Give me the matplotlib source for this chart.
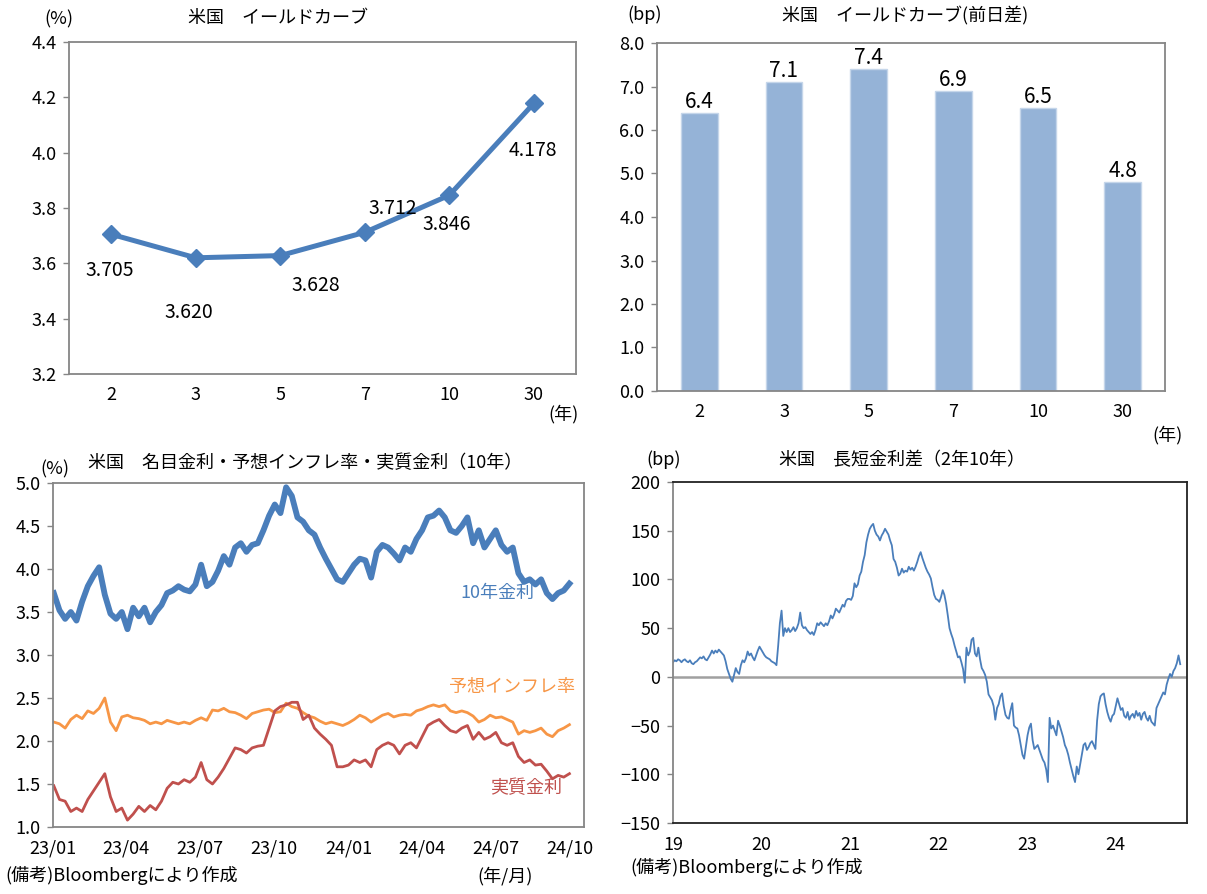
import matplotlib
matplotlib.use('Agg')
from matplotlib import pyplot as plt
import numpy as np
import pandas as pd

plt.rcParams['font.family'] = ['Liberation Sans Narrow', 'Noto Sans CJK JP', 'DejaVu Sans']
plt.rcParams['axes.unicode_minus'] = True

# --- yield curve (top left / top right) ---
tenors = ['2', '3', '5', '7', '10', '30']
yields = [3.705, 3.620, 3.628, 3.712, 3.846, 4.178]
yield_change_bp = [6.4, 7.1, 7.4, 6.9, 6.5, 4.8]

# --- 10y nominal / breakeven / real, weekly from 2023-01-02 ---
nominal_10y = [3.72, 3.52, 3.42, 3.50, 3.40, 3.62, 3.80, 3.92, 4.02, 3.70,
               3.48, 3.42, 3.50, 3.30, 3.55, 3.45, 3.55, 3.38, 3.50, 3.58,
               3.72, 3.75, 3.80, 3.76, 3.74, 3.82, 4.05, 3.80, 3.85, 3.98,
               4.15, 4.05, 4.25, 4.30, 4.20, 4.28, 4.30, 4.45, 4.62, 4.75,
               4.65, 4.95, 4.85, 4.60, 4.55, 4.45, 4.40, 4.25, 4.12, 4.00,
               3.88, 3.85, 3.95, 4.05, 4.12, 4.10, 3.90, 4.20, 4.28, 4.25,
               4.18, 4.10, 4.25, 4.20, 4.35, 4.45, 4.60, 4.62, 4.68, 4.60,
               4.45, 4.42, 4.50, 4.60, 4.30, 4.45, 4.25, 4.35, 4.45, 4.28,
               4.20, 4.25, 3.95, 3.85, 3.88, 3.82, 3.88, 3.72, 3.65, 3.72,
               3.75, 3.83]
breakeven_10y = [2.22, 2.20, 2.15, 2.25, 2.30, 2.26, 2.35, 2.32, 2.38, 2.50,
                 2.22, 2.12, 2.28, 2.30, 2.27, 2.26, 2.24, 2.20, 2.22, 2.20,
                 2.24, 2.22, 2.20, 2.22, 2.20, 2.24, 2.27, 2.24, 2.36, 2.35,
                 2.38, 2.34, 2.33, 2.30, 2.26, 2.32, 2.34, 2.36, 2.37, 2.33,
                 2.34, 2.44, 2.40, 2.38, 2.33, 2.29, 2.27, 2.23, 2.20, 2.22,
                 2.20, 2.18, 2.21, 2.25, 2.30, 2.27, 2.22, 2.26, 2.30, 2.32,
                 2.28, 2.30, 2.31, 2.30, 2.35, 2.37, 2.40, 2.42, 2.40, 2.42,
                 2.35, 2.33, 2.35, 2.33, 2.29, 2.22, 2.25, 2.30, 2.27, 2.28,
                 2.25, 2.22, 2.08, 2.12, 2.10, 2.12, 2.15, 2.08, 2.05, 2.12,
                 2.15, 2.19]
real_10y = [1.48, 1.32, 1.30, 1.18, 1.22, 1.18, 1.32, 1.42, 1.52, 1.62,
            1.35, 1.18, 1.22, 1.08, 1.15, 1.24, 1.18, 1.25, 1.20, 1.30,
            1.45, 1.52, 1.50, 1.55, 1.52, 1.58, 1.75, 1.55, 1.50, 1.58,
            1.68, 1.80, 1.92, 1.90, 1.86, 1.92, 1.94, 1.95, 2.15, 2.35,
            2.40, 2.42, 2.45, 2.45, 2.25, 2.30, 2.15, 2.08, 2.02, 1.95,
            1.70, 1.70, 1.72, 1.78, 1.75, 1.78, 1.70, 1.90, 1.95, 1.98,
            1.95, 1.85, 1.95, 1.98, 1.92, 2.05, 2.18, 2.22, 2.25, 2.18,
            2.12, 2.10, 2.15, 2.18, 2.02, 2.10, 2.02, 2.05, 2.10, 1.98,
            1.95, 1.98, 1.82, 1.75, 1.78, 1.72, 1.73, 1.65, 1.56, 1.60,
            1.58, 1.62]
rate_ticks = ['2023-01-01', '2023-04-01', '2023-07-01', '2023-10-01',
              '2024-01-01', '2024-04-01', '2024-07-01', '2024-10-01']
rate_tick_labels = ['23/01', '23/04', '23/07', '23/10', '24/01', '24/04', '24/07', '24/10']

# --- 2s10s spread (bp), weekly from 2019-01-01 ---
spread_2019 = [15, 17, 16, 18, 17, 15, 17, 18, 16, 15, 17, 14, 13,
               15, 16, 18, 20, 19, 21, 18, 17, 20, 23, 27, 24, 27,
               25, 28, 26, 24, 22, 16, 8, 3, -2, -5, 2, 9, 5, 3,
               12, 17, 15, 19, 26, 22, 24, 20, 17, 22, 27, 31]
spread_2020 = [28, 25, 22, 20, 19, 18, 16, 15, 14, 12, 32, 55, 68,
               42, 50, 46, 50, 46, 48, 51, 47, 50, 55, 66, 53, 50,
               51, 48, 46, 44, 46, 43, 48, 55, 53, 56, 54, 52, 55,
               53, 57, 63, 60, 64, 70, 68, 66, 70, 74, 72, 78, 80]
spread_2021 = [80, 79, 83, 96, 92, 95, 104, 108, 118, 125, 138, 146, 152,
               155, 157, 150, 146, 144, 140, 145, 148, 152, 149, 146, 140, 135,
               121, 118, 112, 104, 106, 111, 107, 109, 108, 113, 110, 112, 109,
               113, 118, 124, 128, 122, 117, 112, 108, 105, 101, 92, 84, 80]
spread_2022 = [79, 77, 82, 89, 84, 75, 63, 50, 44, 39, 32, 26, 20,
               21, 15, 8, -6, 30, 22, 26, 38, 40, 24, 21, 30, 18,
               9, 6, 2, -5, -18, -21, -24, -30, -44, -32, -28, -20, -17,
               -30, -39, -42, -43, -34, -27, -50, -52, -53, -60, -70, -80, -84]
spread_2023 = [-72, -60, -52, -48, -65, -74, -72, -70, -75, -80, -85, -88, -95,
               -108, -42, -53, -50, -55, -60, -45, -50, -56, -62, -70, -74, -80,
               -88, -95, -102, -108, -92, -100, -90, -80, -70, -68, -75, -72, -68,
               -66, -70, -74, -45, -28, -20, -18, -17, -28, -36, -42, -46, -40]
spread_2024 = [-38, -30, -22, -28, -34, -32, -40, -42, -36, -44, -40, -38, -42,
               -35, -40, -37, -44, -38, -36, -42, -45, -40, -46, -48, -50, -32,
               -28, -24, -20, -16, -18, -8, -2, 3, 0, 6, 9, 14, 22, 13]
spread_years = ['19', '20', '21', '22', '23', '24']

W, H = 1207, 894
blue = '#4A7EBB'
orange = '#F79646'
red = '#C0504D'
frame_gray = '#868686'


def px_axes(x0, y0, x1, y1):
    return fig.add_axes([x0 / W, 1 - y1 / H, (x1 - x0) / W, (y1 - y0) / H])


def ftext(x, y, s, **kw):
    kw.setdefault('ha', 'center')
    kw.setdefault('va', 'center')
    kw.setdefault('fontsize', 13)
    fig.text(x / W, 1 - y / H, s, **kw)


def style_frame(ax, color=frame_gray):
    for side in ax.spines.values():
        side.set_color(color)
        side.set_linewidth(1.3)
    ax.tick_params(axis='y', direction='out', length=4, width=1, color=frame_gray,
                   labelsize=13, pad=5)
    ax.tick_params(axis='x', length=0, labelsize=13, pad=9)


fig = plt.figure(figsize=(W / 100, H / 100), dpi=100)

# top left: yield curve
ax1 = px_axes(69, 42, 576, 374)
x = np.arange(len(tenors))
ax1.plot(x, yields, color=blue, lw=3.6, marker='D', ms=9, zorder=3)
ax1.set_xlim(-0.5, len(tenors) - 0.5)
ax1.set_ylim(3.2, 4.4)
ax1.set_yticks(np.arange(3.2, 4.41, 0.2))
ax1.set_yticklabels([f'{v:.1f}' for v in np.arange(3.2, 4.41, 0.2)])
ax1.set_xticks(x)
ax1.set_xticklabels(tenors)
style_frame(ax1)
label_offsets = [(-2, -36), (-7, -55), (36, -30), (28, 24), (-3, -29), (-1, -47)]
for xi, v, (dx, dy) in zip(x, yields, label_offsets):
    ax1.annotate(f'{v:.3f}', (xi, v), xytext=(dx * 0.72, dy * 0.72),
                 textcoords='offset points', ha='center', va='center', fontsize=14)
ftext(278, 18, '米国　イールドカーブ')
ftext(59, 19, '(%)')
ftext(563, 414, '(年)')

# top right: day-on-day change
ax2 = px_axes(657, 43, 1165, 391)
bars = ax2.bar(x, yield_change_bp, width=0.43, color='#95B3D7', edgecolor='#C5D6EA', lw=1)
ax2.set_xlim(-0.5, len(tenors) - 0.5)
ax2.set_ylim(0, 8)
ax2.set_yticks(np.arange(0, 8.01, 1))
ax2.set_yticklabels([f'{v:.1f}' for v in np.arange(0, 8.01, 1)])
ax2.set_xticks(x)
ax2.set_xticklabels(tenors)
style_frame(ax2)
ax2.bar_label(bars, labels=[f'{v:.1f}' for v in yield_change_bp], padding=0, fontsize=15)
ftext(905, 16, '米国　イールドカーブ(前日差)')
ftext(645, 15, '(bp)')
ftext(1168, 435, '(年)')

# bottom left: nominal / breakeven / real
ax3 = px_axes(53, 483, 584, 827)
d3 = pd.date_range('2023-01-02', periods=len(nominal_10y), freq='7D')
ax3.plot(d3, breakeven_10y, color=orange, lw=2.0)
ax3.plot(d3, real_10y, color=red, lw=2.0)
ax3.plot(d3, nominal_10y, color=blue, lw=4.2)
ax3.set_xlim(pd.Timestamp('2023-01-01'), pd.Timestamp('2024-10-18'))
ax3.set_ylim(1.0, 5.0)
ax3.set_yticks(np.arange(1.0, 5.01, 0.5))
ax3.set_yticklabels([f'{v:.1f}' for v in np.arange(1.0, 5.01, 0.5)])
ax3.set_xticks(pd.to_datetime(rate_ticks))
ax3.set_xticklabels(rate_tick_labels)
style_frame(ax3)
ftext(305, 463, '米国　名目金利・予想インフレ率・実質金利（10年）')
ftext(55, 469, '(%)')
ftext(497, 593, '10年金利', color=blue)
ftext(512, 687, '予想インフレ率', color=orange)
ftext(526, 788, '実質金利', color=red)
ftext(5, 875, '(備考)Bloombergにより作成', ha='left')
ftext(505, 876, '(年/月)')

# bottom right: 2s10s spread
ax4 = px_axes(673, 482, 1187, 823)
spread = spread_2019 + spread_2020 + spread_2021 + spread_2022 + spread_2023 + spread_2024
d4 = pd.date_range('2019-01-01', periods=len(spread), freq='7D')
ax4.axhline(0, color='#A0A0A0', lw=1.8, zorder=1)
ax4.plot(d4, spread, color=blue, lw=1.3, zorder=2)
ax4.set_xlim(pd.Timestamp('2019-01-01'), pd.Timestamp('2024-10-22'))
ax4.set_ylim(-150, 200)
ax4.set_yticks(np.arange(-150, 201, 50))
ax4.set_xticks([pd.Timestamp(f'20{y}-01-01') for y in spread_years])
ax4.set_xticklabels(spread_years)
style_frame(ax4, color='#222222')
ax4.spines['left'].set_color(frame_gray)
ftext(902, 460, '米国　長短金利差（2年10年）')
ftext(664, 460, '(bp)')
ftext(630, 867, '(備考)Bloombergにより作成', ha='left')

fig.savefig('out.png', dpi=100)
